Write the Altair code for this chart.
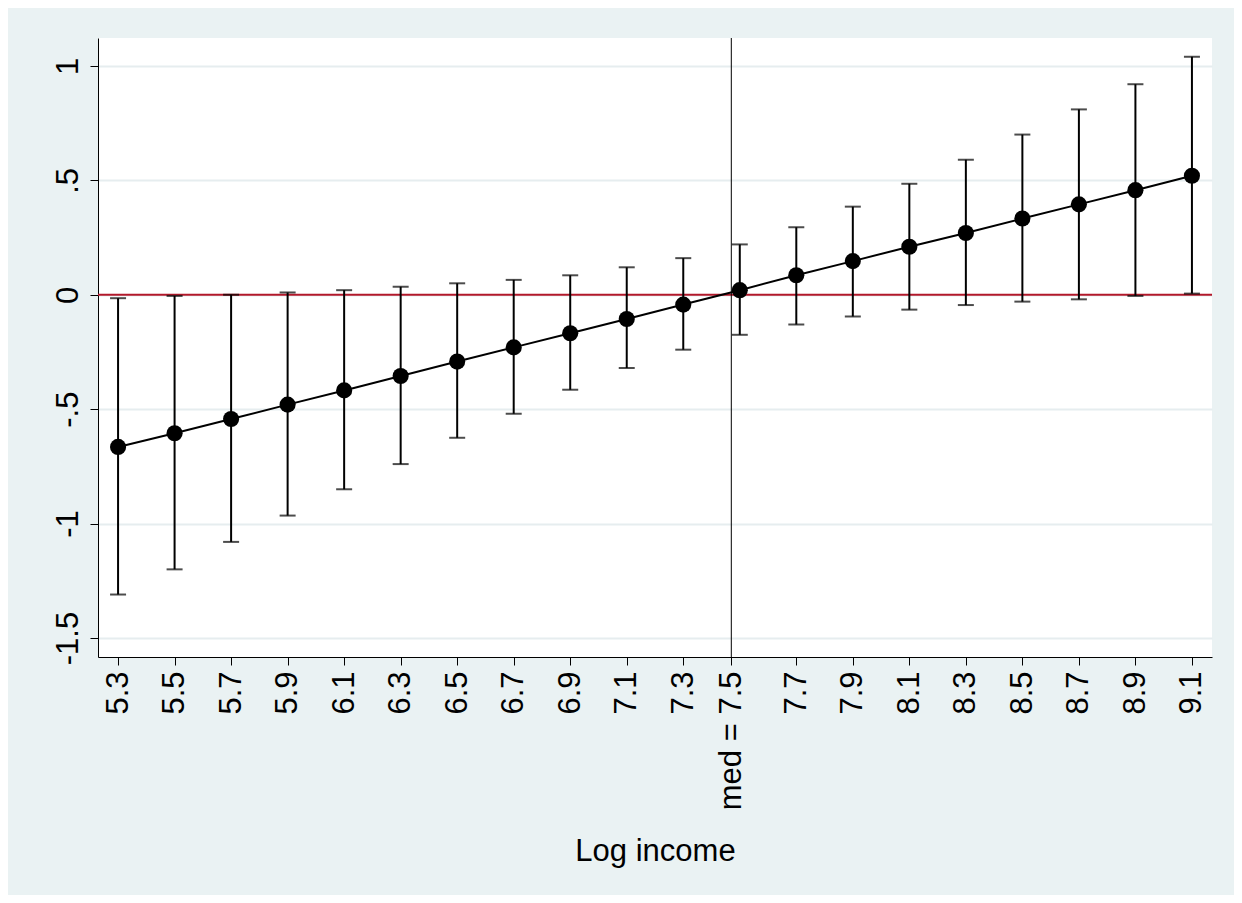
import altair as alt
import pandas as pd

income = [5.3, 5.5, 5.7, 5.9, 6.1, 6.3, 6.5, 6.7, 6.9, 7.1, 7.3, 7.5,
          7.7, 7.9, 8.1, 8.3, 8.5, 8.7, 8.9, 9.1]
effect = [-0.665, -0.605, -0.543, -0.48, -0.418, -0.355, -0.292, -0.23, -0.168, -0.106,
          -0.043, 0.02, 0.085, 0.147, 0.21, 0.27, 0.333, 0.395, 0.457, 0.52]
ci_low = [-1.31, -1.2, -1.08, -0.965, -0.85, -0.74, -0.625, -0.52, -0.415, -0.32,
          -0.24, -0.175, -0.13, -0.095, -0.065, -0.045, -0.03, -0.02, -0.005, 0.005]
ci_high = [-0.015, -0.005, 0.0, 0.01, 0.02, 0.035, 0.05, 0.065, 0.085, 0.12,
           0.16, 0.22, 0.295, 0.385, 0.485, 0.59, 0.70, 0.81, 0.92, 1.04]
median = 7.47
x_ticks = [5.3, 5.5, 5.7, 5.9, 6.1, 6.3, 6.5, 6.7, 6.9, 7.1, 7.3, median,
           7.7, 7.9, 8.1, 8.3, 8.5, 8.7, 8.9, 9.1]
y_ticks = [-1.5, -1, -0.5, 0, 0.5, 1]

df = pd.DataFrame({"x": income, "y": effect, "lo": ci_low, "hi": ci_high})

font = "Liberation Sans"
xs = alt.Scale(domain=[5.229, 9.171], nice=False, zero=False)
ys = alt.Scale(domain=[-1.583, 1.122], nice=False, zero=False)

x_axis = alt.Axis(
    values=x_ticks, title="Log income", grid=False, labelAngle=-90,
    labelExpr="abs(datum.value - 7.47) < 0.001 ? 'med = 7.5' : format(datum.value, '.1f')",
    labelFontSize=31, titleFontSize=31, labelFont=font, titleFont=font, titleFontWeight="normal",
    labelColor="black", titleColor="black", domainColor="black", tickColor="black",
    tickSize=8, labelPadding=6, titlePadding=27, labelAlign="right", labelBaseline="middle",
)
y_axis = alt.Axis(
    values=y_ticks, title=None, grid=True, gridColor="#E6EDEF", gridWidth=2,
    labelAngle=-90, labelAlign="center", labelBaseline="bottom",
    labelExpr="replace(toString(datum.value), '0.', '.')",
    labelFontSize=31, labelFont=font, labelColor="black",
    domainColor="black", tickColor="black", tickSize=8, labelPadding=6,
)

base = alt.Chart(df)

rules = base.mark_rule(color="black", strokeWidth=2).encode(
    x=alt.X("x:Q", scale=xs, axis=x_axis),
    y=alt.Y("lo:Q", scale=ys, axis=y_axis),
    y2="hi:Q",
)
caps_lo = base.mark_tick(color="black", thickness=2, size=16, orient="horizontal").encode(
    x=alt.X("x:Q", scale=xs), y=alt.Y("lo:Q", scale=ys))
caps_hi = base.mark_tick(color="black", thickness=2, size=16, orient="horizontal").encode(
    x=alt.X("x:Q", scale=xs), y=alt.Y("hi:Q", scale=ys))

zero = alt.Chart(pd.DataFrame({"y": [0]})).mark_rule(color="#B2182B", strokeWidth=2).encode(
    y=alt.Y("y:Q", scale=ys))
med = alt.Chart(pd.DataFrame({"x": [median]})).mark_rule(color="black", strokeWidth=1).encode(
    x=alt.X("x:Q", scale=xs))

line = base.mark_line(color="black", strokeWidth=2).encode(
    x=alt.X("x:Q", scale=xs), y=alt.Y("y:Q", scale=ys))
pts = base.mark_circle(color="black", size=260, opacity=1).encode(
    x=alt.X("x:Q", scale=xs), y=alt.Y("y:Q", scale=ys))

chart = alt.layer(zero, med, rules, caps_lo, caps_hi, line, pts).properties(
    width=1114, height=619, background="#EAF2F3",
    padding={"left": 90, "top": 30, "right": 22, "bottom": 238},
    autosize=alt.AutoSizeParams(type="none"),
).configure_view(stroke=None, fill="white")

chart.save("out.html", embed_options={"renderer": "svg", "actions": False})
